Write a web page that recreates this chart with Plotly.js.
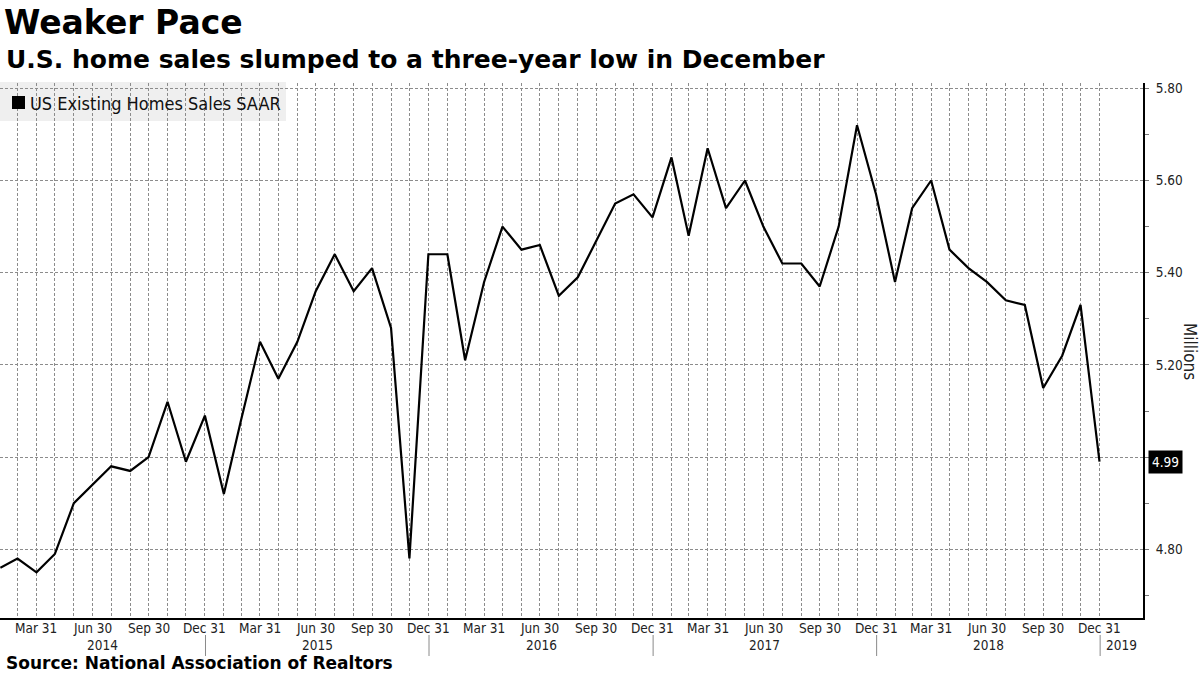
<!DOCTYPE html>
<html><head><meta charset="utf-8">
<script src="https://cdn.plot.ly/plotly-3.0.1.min.js"></script>
<style>html,body{margin:0;padding:0;background:#fff}#chart{width:1200px;height:675px}</style>
</head><body><div id="chart"></div>
<script>
// ---- data ----
const startYear = 2014;            // first observation: Jan 2014 (month-end)
const sales = [
  4.76, 4.78, 4.75, 4.79, 4.90, 4.94, 4.98, 4.97, 5.00, 5.12, 4.99, 5.09,
  4.92, 5.08, 5.25, 5.17, 5.25, 5.36, 5.44, 5.36, 5.41, 5.28, 4.78, 5.44,
  5.44, 5.21, 5.38, 5.50, 5.45, 5.46, 5.35, 5.39, 5.47, 5.55, 5.57, 5.52,
  5.65, 5.48, 5.67, 5.54, 5.60, 5.50, 5.42, 5.42, 5.37, 5.50, 5.72, 5.57,
  5.38, 5.54, 5.60, 5.45, 5.41, 5.38, 5.34, 5.33, 5.15, 5.22, 5.33, 4.99
];
const quarterLabels = {3: 'Mar 31', 6: 'Jun 30', 9: 'Sep 30', 12: 'Dec 31'};
const yearLabels = [2014, 2015, 2016, 2017, 2018, 2019];
const yTickVals = [4.8, 5.0, 5.2, 5.4, 5.6, 5.8];
const yTickText = ['4.80', '', '5.20', '5.40', '5.60', '5.80'];
const yArrowVals = [4.8, 5.2, 5.4, 5.6, 5.8];
const lastLabel = '4.99';
const seriesName = 'US Existing Homes Sales SAAR';
const titleText = 'Weaker Pace';
const subtitleText = 'U.S. home sales slumped to a three-year low in December';
const sourceText = 'Source: National Association of Realtors';
const unitText = 'Millions';

// ---- layout helpers ----
const FULL_W = 1200, FULL_H = 675;
const M = {l: 0, r: 57, t: 83, b: 57};
const PW = FULL_W - M.l - M.r, PH = FULL_H - M.t - M.b;
const px = x => (x - M.l) / PW;
const py = y => (FULL_H - M.b - y) / PH;
const FONT_COND = '"DejaVu Sans Condensed", "Liberation Sans Narrow", sans-serif';
const FONT_BOLD = '"DejaVu Sans", "Liberation Sans", sans-serif';

function pad(n) { return (n < 10 ? '0' : '') + n; }
function monthEnd(y, m) { // m: 0-based
  const d = new Date(Date.UTC(y, m + 1, 0));
  return d.getUTCFullYear() + '-' + pad(d.getUTCMonth() + 1) + '-' + pad(d.getUTCDate());
}
const dates = sales.map((_, i) => monthEnd(startYear + Math.floor(i / 12), i % 12));
const tickText = dates.map((d, i) => quarterLabels[(i % 12) + 1] || '');

const X_START = Date.UTC(2014, 0, 30, 10);
const X_END = Date.UTC(2019, 2, 12);

const shapes = [];
const annotations = [];

// x tick labels (first row) and year labels (second row)
dates.forEach((d, i) => {
  if (!tickText[i]) return;
  annotations.push({xref: 'x', yref: 'paper', x: d, y: py(628), xanchor: 'center', yanchor: 'middle',
    text: tickText[i], showarrow: false, font: {family: FONT_COND, size: 13.5, color: '#222'}});
});
yearLabels.forEach(yr => {
  const s = Math.max(X_START, Date.UTC(yr, 0, 1));
  const e = Math.min(X_END, Date.UTC(yr + 1, 0, 1));
  if (yr > yearLabels[0]) {
    shapes.push({type: 'line', xref: 'x', yref: 'paper', x0: Date.UTC(yr, 0, 1), x1: Date.UTC(yr, 0, 1),
      y0: py(635), y1: py(656), line: {color: '#8a8a8a', width: 1}});
  }
  annotations.push({xref: 'x', yref: 'paper', x: (s + e) / 2, y: py(645), xanchor: 'center', yanchor: 'middle',
    text: String(yr), showarrow: false, font: {family: FONT_COND, size: 13.5, color: '#222'}});
});

// legend box
shapes.push({type: 'rect', xref: 'paper', yref: 'paper', x0: px(0), x1: px(286), y0: py(121), y1: py(82),
  fillcolor: '#efefef', line: {width: 0}, layer: 'below'});
shapes.push({type: 'rect', xref: 'paper', yref: 'paper', x0: px(12), x1: px(25), y0: py(109), y1: py(96),
  fillcolor: '#000', line: {width: 0}, layer: 'above'});
annotations.push({xref: 'paper', yref: 'paper', x: px(28), y: py(103), xanchor: 'left', yanchor: 'middle',
  text: seriesName, showarrow: false, font: {family: FONT_COND, size: 18, color: '#111'}});

// subtitle, source, unit
annotations.push({xref: 'paper', yref: 'paper', x: px(4), y: py(60), xanchor: 'left', yanchor: 'middle',
  text: subtitleText, showarrow: false, font: {family: FONT_BOLD, size: 25, weight: 700, color: '#000'}});
annotations.push({xref: 'paper', yref: 'paper', x: px(4), y: py(663), xanchor: 'left', yanchor: 'middle',
  text: sourceText, showarrow: false, font: {family: FONT_BOLD, size: 17, weight: 700, color: '#000'}});
annotations.push({xref: 'paper', yref: 'paper', x: px(1190), y: py(351), xanchor: 'center', yanchor: 'middle',
  text: unitText, textangle: 90, showarrow: false, font: {family: FONT_COND, size: 17, color: '#222'}});

// last value label
const lastVal = sales[sales.length - 1];
annotations.push({xref: 'paper', yref: 'y', x: px(1148), y: lastVal, xanchor: 'left', yanchor: 'middle',
  text: lastLabel, showarrow: false, bgcolor: '#000', borderpad: 3,
  font: {family: FONT_COND, size: 13.5, color: '#fff'}});

const traces = [
  {x: dates, y: sales, type: 'scatter', mode: 'lines', name: seriesName, showlegend: false,
   line: {color: '#000', width: 2.2}, hoverinfo: 'x+y'},
  {x: yArrowVals.map(() => 1.0035), y: yArrowVals, xaxis: 'x2', yaxis: 'y', type: 'scatter', mode: 'markers',
   marker: {symbol: 'triangle-right', size: 8, color: '#000'}, cliponaxis: false, showlegend: false, hoverinfo: 'skip'},
  {x: [1.0035], y: [lastVal], xaxis: 'x2', yaxis: 'y', type: 'scatter', mode: 'markers',
   marker: {symbol: 'triangle-left', size: 14, color: '#000'}, cliponaxis: false, showlegend: false, hoverinfo: 'skip'}
];

const layout = {
  width: FULL_W, height: FULL_H,
  margin: M,
  paper_bgcolor: '#fff', plot_bgcolor: 'rgba(0,0,0,0)',
  showlegend: false,
  title: {text: titleText, xref: 'container', yref: 'container', x: 4 / FULL_W, xanchor: 'left',
    y: 1 - 22 / FULL_H, yanchor: 'middle', font: {family: FONT_BOLD, size: 33, weight: 700, color: '#000'}},
  xaxis: {type: 'date', range: [X_START, X_END], tickmode: 'array', tickvals: dates, showticklabels: false,
    showgrid: true, gridcolor: '#8c8c8c', griddash: '3px,2px', gridwidth: 1,
    showline: true, linecolor: '#000', linewidth: 2, ticks: '', zeroline: false, fixedrange: true},
  xaxis2: {overlaying: 'x', range: [0, 1], visible: false, fixedrange: true},
  yaxis: {side: 'right', range: [4.651, 5.8115], tickmode: 'array', tickvals: yTickVals, ticktext: yTickText,
    showgrid: true, gridcolor: '#8c8c8c', griddash: '3px,2px', gridwidth: 1,
    showline: true, linecolor: '#000', linewidth: 2, zeroline: false,
    ticks: 'outside', ticklen: 8, tickcolor: 'rgba(0,0,0,0)',
    minor: {dtick: 0.1, tick0: 0, ticks: 'outside', ticklen: 4, tickcolor: '#777', showgrid: false},
    tickfont: {family: FONT_COND, size: 13.5, color: '#222'}, fixedrange: true},
  shapes: shapes,
  annotations: annotations
};

Plotly.newPlot('chart', traces, layout, {displayModeBar: false, staticPlot: true});
</script>
</body></html>
